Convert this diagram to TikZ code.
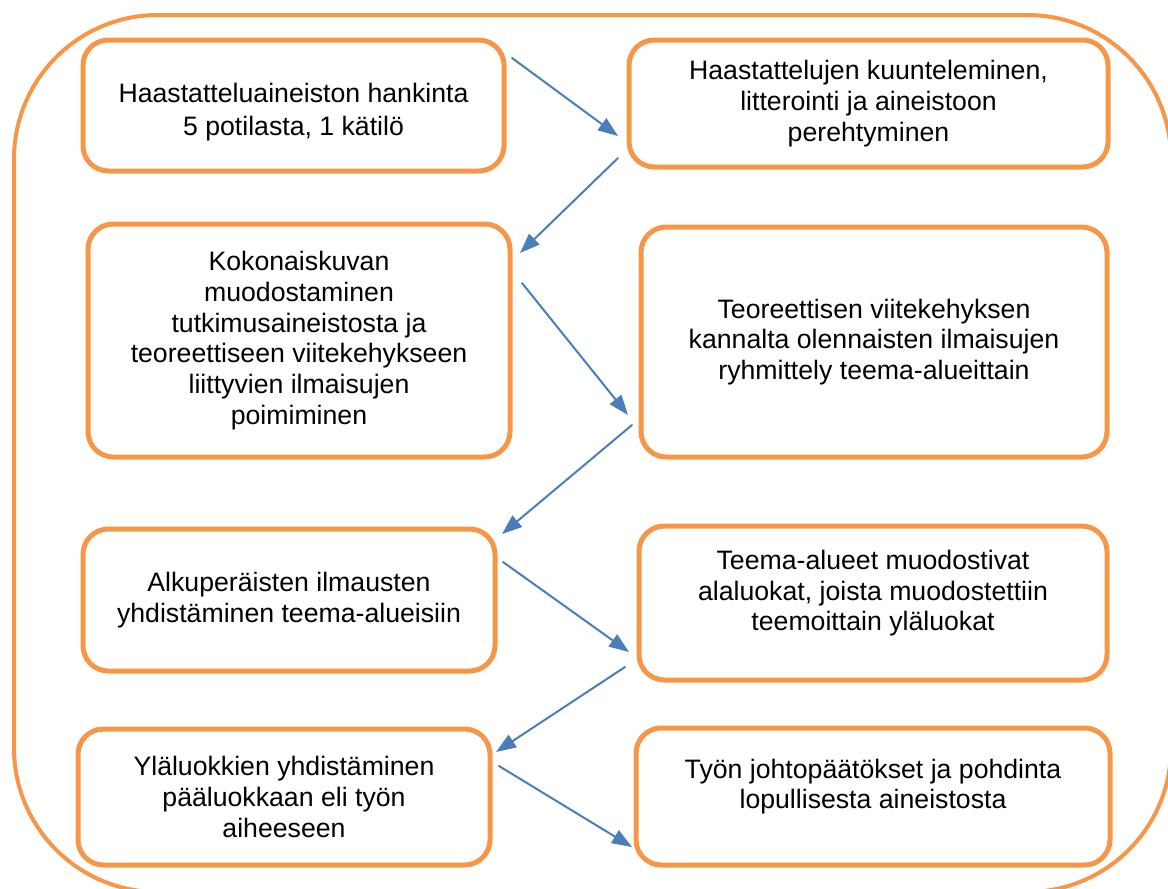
\documentclass[tikz,border=0pt]{standalone}
\usepackage{fontspec}
\setmainfont{Liberation Sans}
\usetikzlibrary{arrows.meta}
\definecolor{boxorange}{HTML}{F79646}
\definecolor{flowblue}{HTML}{4A7EBB}
\begin{document}
\begin{tikzpicture}[x=0.75pt,y=-0.75pt,line cap=round,line join=round,
    stepbox/.style={draw=boxorange,line width=3.75pt,rounded corners=19pt,
      align=center,inner sep=0pt,font=\fontsize{20}{23}\selectfont},
    flow/.style={draw=flowblue,line width=1.5pt,-{Triangle[length=15pt,width=11pt]}}]
  \useasboundingbox (0,0) rectangle (1168,889);
  % outer frame
  \draw[boxorange,line width=3pt,rounded corners=108pt] (14,15) rectangle (1171,892);
  % steps
  \node[stepbox,minimum width=315.75pt,minimum height=98.25pt] (hankinta) at (293.5,105.5)
    {\rule{0pt}{24pt}Haastatteluaineiston hankinta\\[2pt]5 potilasta, 1 kätilö};
  \node[stepbox,minimum width=359.25pt,minimum height=95.25pt] (litterointi) at (868.5,103.5)
    {Haastattelujen kuunteleminen,\\litterointi ja aineistoon\\perehtyminen};
  \node[stepbox,minimum width=316.5pt,minimum height=174.75pt] (kokonaiskuva) at (299,340.5)
    {Kokonaiskuvan\\muodostaminen\\tutkimusaineistosta ja\\teoreettiseen viitekehykseen\\liittyvien ilmaisujen\\poimiminen};
  \node[stepbox,minimum width=349.5pt,minimum height=172.5pt] (ryhmittely) at (874,342)
    {Teoreettisen viitekehyksen\\kannalta olennaisten ilmaisujen\\ryhmittely teema-alueittain};
  \node[stepbox,minimum width=309pt,minimum height=106.5pt] (yhdistaminen) at (289,600)
    {Alkuperäisten ilmausten\\yhdistäminen teema-alueisiin};
  \node[stepbox,minimum width=351pt,minimum height=115.5pt] (alaluokat) at (873,603)
    {Teema-alueet muodostivat\\alaluokat, joista muodostettiin\\teemoittain yläluokat\\[-4pt]\mbox{}};
  \node[stepbox,minimum width=309pt,minimum height=102pt] (paaluokka) at (284,797)
    {Yläluokkien yhdistäminen\\pääluokkaan eli työn\\aiheeseen};
  \node[stepbox,minimum width=355.5pt,minimum height=102.75pt] (pohdinta) at (873,796.5)
    {Työn johtopäätökset ja pohdinta\\lopullisesta aineistosta\\[-4pt]\mbox{}};
  % arrow ends
  \coordinate (a1) at (512,58);  \coordinate (b1) at (618,136);
  \coordinate (a2) at (618,158); \coordinate (b2) at (520,253);
  \coordinate (a3) at (522,283); \coordinate (b3) at (628,415);
  \coordinate (a4) at (632,425); \coordinate (b4) at (502,534);
  \coordinate (a5) at (503,562); \coordinate (b5) at (629,652);
  \coordinate (a6) at (625,667); \coordinate (b6) at (496,752);
  \coordinate (a7) at (499,766); \coordinate (b7) at (632,847);
  \foreach \i in {1,...,7}
    \draw[flow] (a\i) -- (b\i);
\end{tikzpicture}
\end{document}
